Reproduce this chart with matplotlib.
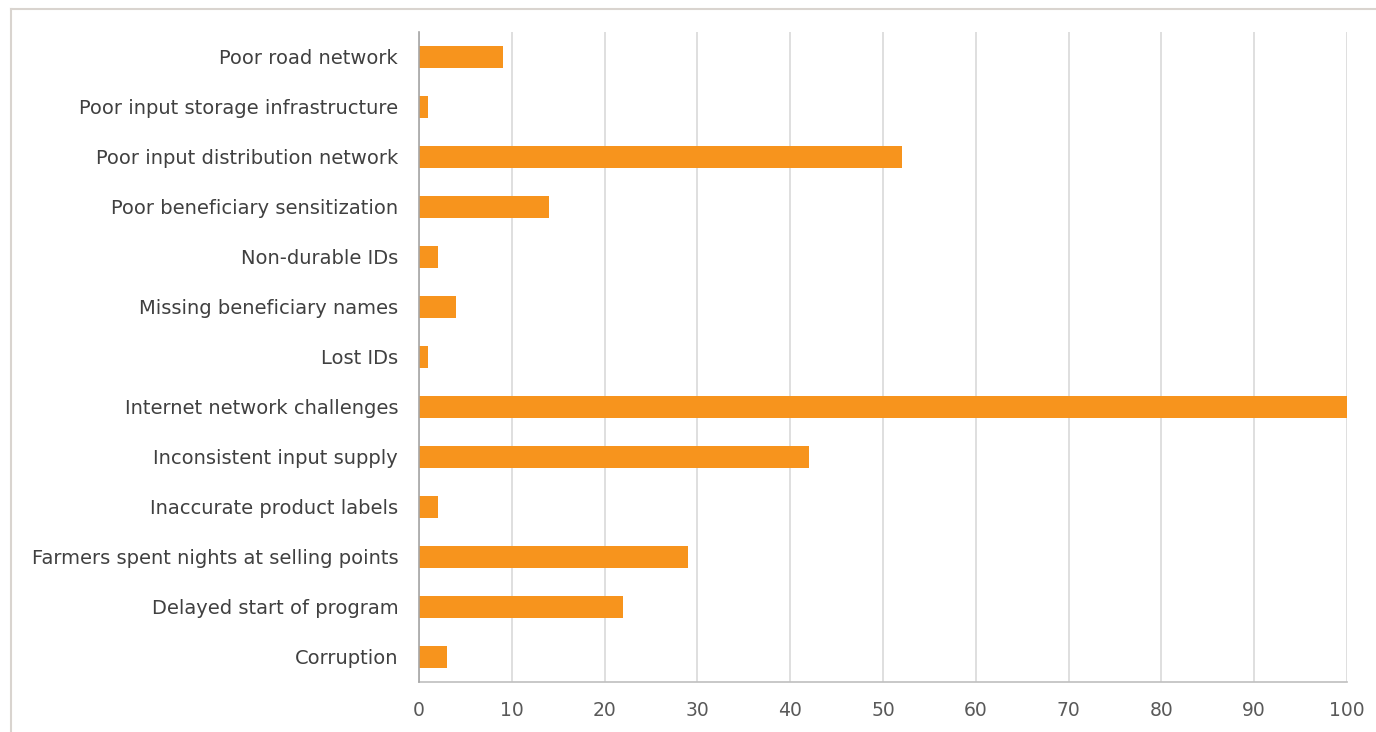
import matplotlib
matplotlib.use("Agg")
import matplotlib.pyplot as plt
from matplotlib.lines import Line2D

categories = ["Poor road network", "Poor input storage infrastructure",
              "Poor input distribution network", "Poor beneficiary sensitization",
              "Non-durable IDs", "Missing beneficiary names", "Lost IDs",
              "Internet network challenges", "Inconsistent input supply",
              "Inaccurate product labels", "Farmers spent nights at selling points",
              "Delayed start of program", "Corruption"]
values = [9, 1, 52, 14, 2, 4, 1, 100, 42, 2, 29, 22, 3]
xticks = [0, 10, 20, 30, 40, 50, 60, 70, 80, 90, 100]

plt.rcParams['font.family'] = ['DejaVu Sans']

W, H = 1376, 732
fig = plt.figure(figsize=(W/100, H/100), dpi=100)
ax = fig.add_axes([419/W, 1-682/H, (1347-419)/W, (682-32)/H])

pos = list(range(len(categories)))
ax.barh(pos, values, height=0.45, color='#F7941D', zorder=3)
ax.set_ylim(len(categories)-0.5, -0.5)
ax.set_xlim(0, 100)
ax.set_xticks(xticks)
ax.set_yticks(pos)
ax.set_yticklabels(categories, fontsize=14, color='#404040')
ax.tick_params(axis='x', labelsize=13.5, labelcolor='#595959', length=0, pad=14)
ax.tick_params(axis='y', length=0, pad=15)
ax.xaxis.grid(True, color='#d9d9d9', linewidth=1.2, zorder=0)
for s in ['top', 'right']:
    ax.spines[s].set_visible(False)
ax.spines['left'].set_color('#a6a6a6')
ax.spines['bottom'].set_color('#bfbfbf')
ax.spines['left'].set_linewidth(1.2)
ax.spines['bottom'].set_linewidth(1.2)
ax.spines['left'].set_zorder(4)

# outer chart frame (partially visible)
fig.add_artist(Line2D([11/W, 11/W], [0, 1-9/H], color='#d9d4cf', linewidth=1.5, transform=fig.transFigure))
fig.add_artist(Line2D([11/W, 1], [1-9/H, 1-9/H], color='#d9d4cf', linewidth=1.5, transform=fig.transFigure))

fig.savefig('out.png', dpi=100)
